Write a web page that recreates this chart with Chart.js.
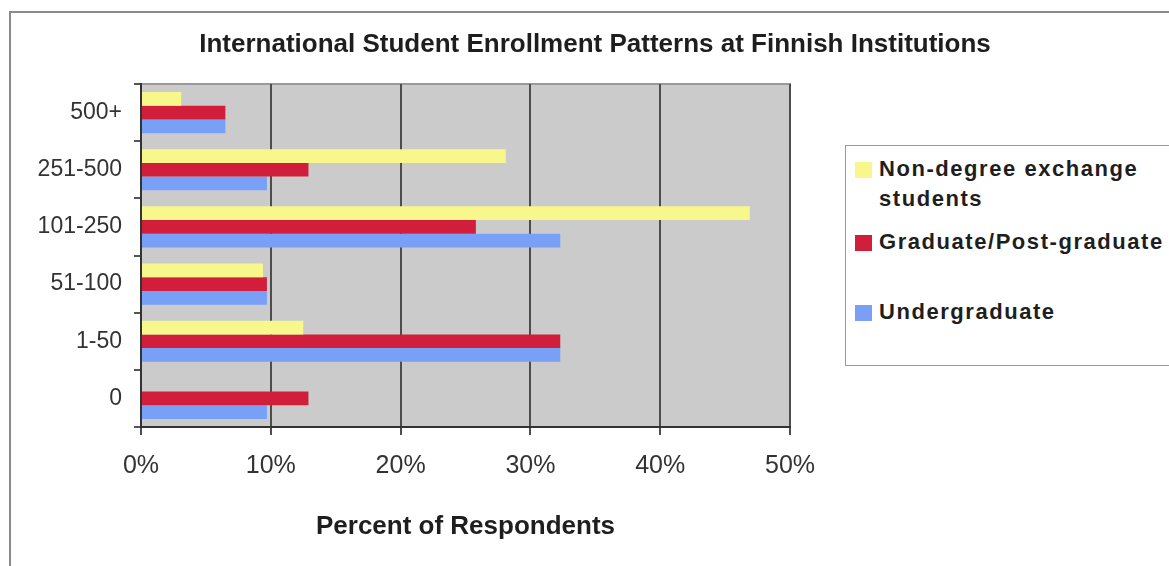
<!DOCTYPE html>
<html lang="en">
<head>
    <meta charset="UTF-8">
    <title>International Student Enrollment Patterns</title>
    <script src="https://cdn.jsdelivr.net/npm/chart.js"></script>
    <style>
        body {
            margin: 0;
            padding: 0;
            background: #fff;
            font-family: 'Liberation Sans', Arial, sans-serif;
            overflow: hidden;
        }
        #wrap {
            position: relative;
            width: 1169px;
            height: 566px;
        }
        #frame {
            position: absolute;
            left: 9px;
            top: 11px;
            width: 1300px;
            height: 700px;
            border-left: 2px solid #8a8a8a;
            border-top: 2px solid #8a8a8a;
        }
        canvas {
            position: absolute;
            left: 0;
            top: 0;
        }
        #legend {
            position: absolute;
            left: 845px;
            top: 145px;
            width: 340px;
            height: 219px;
            border: 1px solid #9a9a9a;
            background: #fff;
        }
        .item {
            position: absolute;
            left: 9px;
            font-weight: bold;
            font-size: 22px;
            letter-spacing: 1.55px;
            line-height: 30px;
            color: #1e1e1e;
            white-space: nowrap;
        }
        .swatch {
            position: absolute;
            left: 0;
            top: 8px;
            width: 17px;
            height: 16px;
        }
        .item span.txt {
            display: block;
            margin-left: 24px;
        }
    </style>
</head>
<body>
<div id="wrap">
    <div id="frame"></div>
    <canvas id="chart" width="1169" height="566"></canvas>
    <div id="legend"></div>
</div>
<script>
    const categories = ['500+', '251-500', '101-250', '51-100', '1-50', '0'];
    const seriesNames = ['Non-degree exchange students', 'Graduate/Post-graduate', 'Undergraduate'];
    const nonDegree = [3.1, 28.1, 46.9, 9.4, 12.5, 0];
    const graduate = [6.5, 12.9, 25.8, 9.7, 32.3, 12.9];
    const undergraduate = [6.5, 9.7, 32.3, 9.7, 32.3, 9.7];
    const xTicks = [0, 10, 20, 30, 40, 50];
    const colors = ['#f7f78c', '#d11f3b', '#78a0f7'];

    // legend box on the right (html so the long label can wrap like the original)
    const legendTops = [8, 81, 151];
    const legendLines = [['Non-degree exchange', 'students'], ['Graduate/Post-graduate'], ['Undergraduate']];
    const legend = document.getElementById('legend');
    legendLines.forEach((lines, i) => {
        const item = document.createElement('div');
        item.className = 'item';
        item.style.top = legendTops[i] + 'px';
        item.innerHTML = '<div class="swatch" style="background:' + colors[i] + '"></div>' +
            '<span class="txt">' + lines.join('<br>') + '</span>';
        legend.appendChild(item);
    });

    const plotBackground = {
        id: 'plotBackground',
        beforeDraw(chart) {
            const { ctx, chartArea: a } = chart;
            ctx.save();
            ctx.fillStyle = '#cbcbcb';
            ctx.fillRect(a.left, a.top, a.right - a.left, a.bottom - a.top);
            ctx.strokeStyle = '#9a9a9a';
            ctx.lineWidth = 2;
            ctx.beginPath();
            ctx.moveTo(a.left, a.top);
            ctx.lineTo(a.right, a.top);
            ctx.lineTo(a.right, a.bottom);
            ctx.stroke();
            ctx.restore();
        }
    };

    new Chart(document.getElementById('chart').getContext('2d'), {
        type: 'bar',
        data: {
            labels: categories,
            datasets: [
                { label: seriesNames[0], data: nonDegree, backgroundColor: colors[0] },
                { label: seriesNames[1], data: graduate, backgroundColor: colors[1] },
                { label: seriesNames[2], data: undergraduate, backgroundColor: colors[2] }
            ]
        },
        options: {
            indexAxis: 'y',
            responsive: false,
            animation: false,
            categoryPercentage: 0.72,
            barPercentage: 1.0,
            layout: {
                padding: { left: 0, top: 84, right: 379, bottom: 0 }
            },
            plugins: {
                legend: { display: false },
                tooltip: { enabled: false },
                title: { display: false }
            },
            scales: {
                x: {
                    min: 0,
                    max: 50,
                    afterBuildTicks(scale) {
                        scale.ticks = xTicks.map(v => ({ value: v }));
                    },
                    afterFit(scale) {
                        scale.height = 139;
                    },
                    grid: {
                        color: '#4d4d4d',
                        lineWidth: 2,
                        tickLength: 8
                    },
                    border: { color: '#333', width: 2 },
                    ticks: {
                        padding: 16,
                        color: '#333',
                        font: { family: 'Liberation Sans', size: 25 },
                        callback: v => v + '%'
                    },
                    title: {
                        display: true,
                        text: 'Percent of Respondents',
                        color: '#1e1e1e',
                        font: { family: 'Liberation Sans', size: 26, weight: 'bold' },
                        padding: { top: 0, bottom: 24 }
                    }
                },
                y: {
                    afterFit(scale) {
                        scale.width = 141;
                    },
                    grid: {
                        offset: true,
                        drawOnChartArea: false,
                        color: '#555',
                        lineWidth: 2,
                        tickLength: 7
                    },
                    border: { color: '#333', width: 2 },
                    ticks: {
                        padding: 12,
                        color: '#333',
                        font: { family: 'Liberation Sans', size: 23 }
                    }
                }
            }
        },
        plugins: [plotBackground, {
            id: 'topTitle',
            afterDraw(chart) {
                const ctx = chart.ctx;
                ctx.save();
                ctx.fillStyle = '#1e1e1e';
                ctx.font = 'bold 26px "Liberation Sans", Arial, sans-serif';
                ctx.textAlign = 'center';
                ctx.textBaseline = 'middle';
                ctx.fillText('International Student Enrollment Patterns at Finnish Institutions', 595, 45);
                ctx.restore();
            }
        }]
    });
</script>
</body>
</html>
